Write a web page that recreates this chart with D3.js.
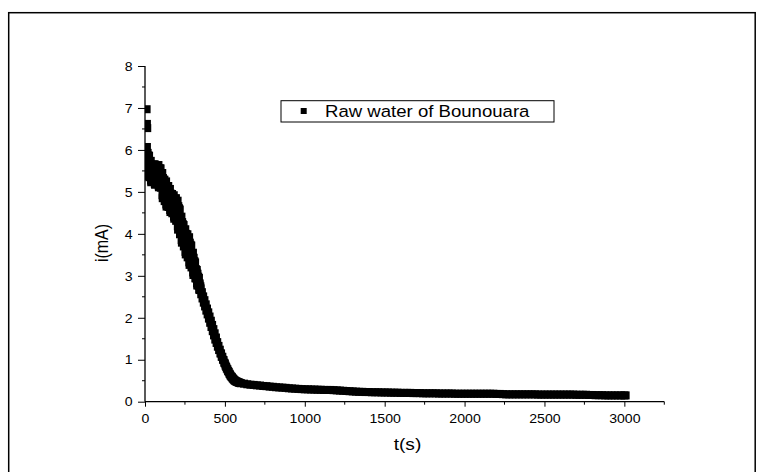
<!DOCTYPE html>
<html>
<head>
<meta charset="utf-8">
<script src="https://cdn.jsdelivr.net/npm/d3@7/dist/d3.min.js"></script>
<style>
  html, body { margin: 0; padding: 0; background: #fff; }
  svg { display: block; }
  text { font-family: "Liberation Sans", Arial, sans-serif; fill: #000; }
</style>
</head>
<body>
<div id="chart"></div>
<script>
// ---------------- data ----------------
const seriesName = "Raw water of Bounouara";
const xTitle = "t(s)";
const yTitle = "i(mA)";
const xMajorTicks = [0, 500, 1000, 1500, 2000, 2500, 3000];
const yMajorTicks = [0, 1, 2, 3, 4, 5, 6, 7, 8];

// isolated early spikes
const spikeTime = [10, 12, 14];
const spikeCurrent = [6.97, 6.62, 6.52];

// noisy start (s, mA) - first set of readings
const timeStart = [3,6,9,12,15,18,21,24,27,30,33,36,39,42,45,48,51,54,57,60,63,66,69,72,75,78,81,84,87,90,
  93,96,99,102,105,108,111,114,117,120,123,126,129,132,135,138,141,144,147,150,153,156,159,162,165,168,171,174,177,180,
  183,186,189,192,195,198,201,204,207,210,213,216,219,222,225,228,231,234,237,240,243,246,249,252,255,258,261,264,267,270,
  273,276,279,282,285,288,291,294,297,300,303,306,309,312,315,318,321,324,327,330,333,336,339,342,345];
const currentStart = [5.51,6.01,5.69,6.07,5.38,5.73,5.87,5.49,5.35,5.70,5.46,5.74,5.23,5.50,5.63,5.34,5.24,5.56,5.37,5.66,
  5.17,5.46,5.60,5.30,5.20,5.54,5.34,5.64,5.11,5.42,5.56,5.22,5.10,5.42,5.16,5.45,4.85,5.15,5.29,4.91,
  4.78,5.17,4.92,5.25,4.65,4.98,5.13,4.77,4.64,5.01,4.77,5.07,4.52,4.81,4.94,4.62,4.49,4.84,4.61,4.92,
  4.36,4.68,4.84,4.46,4.31,4.71,4.44,4.79,4.10,4.47,4.61,4.17,3.99,4.37,4.10,4.41,3.79,4.10,4.23,3.85,
  3.70,4.06,3.80,4.11,3.51,3.83,3.98,3.59,3.44,3.85,3.57,3.92,3.26,3.61,3.74,3.34,3.20,3.54,3.29,3.55,
  3.02,3.26,3.35,3.05,2.94,3.16,2.98,3.14,2.77,2.93,2.98,2.76,2.67,2.82,2.67];

// noisy start (s, mA) - interleaved readings
const timeStart2 = [4.5,7.5,10.5,13.5,16.5,19.5,22.5,25.5,28.5,31.5,34.5,37.5,40.5,43.5,46.5,49.5,52.5,55.5,58.5,61.5,
  64.5,67.5,70.5,73.5,76.5,79.5,82.5,85.5,88.5,91.5,94.5,97.5,100.5,103.5,106.5,109.5,112.5,115.5,118.5,121.5,
  124.5,127.5,130.5,133.5,136.5,139.5,142.5,145.5,148.5,151.5,154.5,157.5,160.5,163.5,166.5,169.5,172.5,175.5,178.5,181.5,
  184.5,187.5,190.5,193.5,196.5,199.5,202.5,205.5,208.5,211.5,214.5,217.5,220.5,223.5,226.5,229.5,232.5,235.5,238.5,241.5,
  244.5,247.5,250.5,253.5,256.5,259.5,262.5,265.5,268.5,271.5,274.5,277.5,280.5,283.5,286.5,289.5,292.5,295.5,298.5,301.5,
  304.5,307.5,310.5,313.5,316.5,319.5,322.5,325.5,328.5,331.5,334.5,337.5,340.5,343.5,346.5];
const currentStart2 = [5.86,5.57,5.90,5.42,5.93,5.58,5.61,5.86,5.60,5.38,5.62,5.27,5.64,5.38,5.42,5.65,5.45,5.28,5.51,5.19,
  5.58,5.34,5.38,5.62,5.42,5.24,5.49,5.15,5.56,5.29,5.32,5.56,5.33,5.11,5.32,4.92,5.33,5.01,5.03,5.29,
  5.04,4.82,5.09,4.70,5.14,4.84,4.87,5.14,4.89,4.68,4.93,4.57,4.96,4.68,4.71,4.95,4.73,4.53,4.77,4.41,
  4.83,4.53,4.58,4.85,4.59,4.34,4.62,4.18,4.66,4.30,4.31,4.58,4.27,4.02,4.27,3.85,4.28,3.95,3.97,4.21,
  3.95,3.72,3.97,3.57,4.00,3.68,3.71,3.99,3.72,3.47,3.76,3.32,3.79,3.45,3.47,3.72,3.45,3.22,3.44,3.08,
  3.43,3.15,3.16,3.32,3.11,2.94,3.08,2.82,3.05,2.85,2.84,2.95,2.79,2.66,2.75];

// steep decay (s, mA)
const timeDecay = [348,352,356,360,364,368,372,376,380,384,388,392,396,400,404,408,412,416,420,424,428,432,436,440,444,
  448,452,456,460,464,468,472,476,480,484,488,492,496,500,504,508,512,516,520,524,528,532,536,540,544,548,552,556,560,
  564,568,572,576,580,584,588,592,596];
const currentDecay = [2.70,2.56,2.61,2.46,2.51,2.36,2.42,2.27,2.32,2.17,2.22,2.08,2.13,1.98,2.03,1.88,1.93,1.78,1.83,1.68,
  1.73,1.58,1.63,1.48,1.53,1.40,1.42,1.31,1.33,1.23,1.24,1.15,1.15,1.07,1.07,1.00,0.99,0.93,0.91,0.86,0.83,0.79,0.77,0.73,
  0.71,0.67,0.65,0.62,0.60,0.585,0.56,0.545,0.525,0.51,0.50,0.49,0.48,0.475,0.47,0.46,0.455,0.45,0.445];

// slow tail (s, mA)
const timeTail = [600,620,640,660,680,700,720,740,760,780,800,820,840,860,880,900,920,940,960,980,
  1000,1020,1040,1060,1080,1100,1120,1140,1160,1180,1200,1220,1240,1260,1280,1300,1320,1340,1360,1380,
  1400,1420,1440,1460,1480,1500,1520,1540,1560,1580,1600,1620,1640,1660,1680,1700,1720,1740,1760,1780,
  1800,1820,1840,1860,1880,1900,1920,1940,1960,1980,2000,2020,2040,2060,2080,2100,2120,2140,2160,2180,
  2200,2220,2240,2260,2280,2300,2320,2340,2360,2380,2400,2420,2440,2460,2480,2500,2520,2540,2560,2580,
  2600,2620,2640,2660,2680,2700,2720,2740,2760,2780,2800,2820,2840,2860,2880,2900,2920,2940,2960,2980,
  3000,3008];
const currentTail = [0.44,0.43,0.415,0.405,0.40,0.39,0.385,0.375,0.37,0.36,0.355,0.345,0.34,0.335,0.33,0.32,0.315,0.31,0.305,0.30,
  0.295,0.295,0.29,0.29,0.285,0.285,0.28,0.28,0.28,0.275,0.27,0.265,0.26,0.255,0.25,0.245,0.24,0.235,0.235,0.23,
  0.23,0.225,0.225,0.225,0.22,0.22,0.22,0.215,0.215,0.215,0.21,0.21,0.21,0.21,0.205,0.205,0.205,0.2,0.2,0.2,
  0.2,0.2,0.195,0.195,0.195,0.195,0.195,0.19,0.19,0.19,0.19,0.19,0.19,0.19,0.19,0.19,0.19,0.19,0.19,0.19,
  0.185,0.185,0.18,0.175,0.175,0.175,0.175,0.175,0.175,0.175,0.175,0.175,0.175,0.17,0.17,0.17,0.17,0.17,0.17,0.17,
  0.17,0.17,0.17,0.17,0.17,0.165,0.165,0.165,0.165,0.16,0.16,0.155,0.155,0.155,0.15,0.15,0.15,0.15,0.15,0.15,
  0.15,0.15];

// ---------------- drawing ----------------
const W = 761, H = 472;
const STRETCH = 1.13;
const svg = d3.select("#chart").append("svg").attr("width", W).attr("height", H);
svg.append("rect").attr("width", W).attr("height", H).attr("fill", "#fff");

// outer frame
svg.append("rect").attr("x", 8.7).attr("y", 12.7).attr("width", 746.5).attr("height", 480)
  .attr("fill", "none").attr("stroke", "#000").attr("stroke-width", 1.5);

const x = d3.scaleLinear().domain([0, 3250]).range([145, 664.3]);
const y = d3.scaleLinear().domain([0, 8]).range([401.7, 66]);

const points = [];
spikeTime.forEach((t, i) => points.push([t, spikeCurrent[i]]));
timeStart.forEach((t, i) => points.push([t, currentStart[i]]));
timeStart2.forEach((t, i) => points.push([t, currentStart2[i]]));
timeDecay.forEach((t, i) => points.push([t, currentDecay[i]]));
timeTail.forEach((t, i) => points.push([t, currentTail[i]]));

svg.append("clipPath").attr("id", "plotclip").append("rect")
  .attr("x", x(0)).attr("y", 0).attr("width", x(3250) - x(0)).attr("height", y(0) + 10);

const S = 8;
svg.append("g").attr("clip-path", "url(#plotclip)")
  .selectAll("rect").data(points).join("rect")
  .attr("x", d => x(d[0]) - S / 2).attr("y", d => y(d[1]) - S / 2)
  .attr("width", S).attr("height", S).attr("fill", "#000");

// x axis
const xMinor = d3.range(0, 3251, 250).filter(v => v % 500 !== 0);
const xAxisG = svg.append("g").attr("transform", `translate(0,${y(0)})`);
xAxisG.call(d3.axisBottom(x).tickValues(xMajorTicks).tickSize(5).tickSizeOuter(0).tickFormat(d3.format("d")));
xAxisG.selectAll(".tick text").attr("y", 21.6).attr("dy", 0)
  .attr("transform", `scale(${STRETCH},1)`).style("font-size", "12.5px").style("font-family", '"Liberation Sans", Arial, sans-serif');
xAxisG.append("g").selectAll("line").data(xMinor).join("line")
  .attr("x1", d => x(d)).attr("x2", d => x(d)).attr("y1", 0).attr("y2", 3).attr("stroke", "#000");
xAxisG.select(".domain").attr("stroke-width", 1.2).attr("d", `M${x(0)},0H${x(3250)}`);
xAxisG.selectAll(".tick line").attr("stroke-width", 1);

// y axis
const yMinor = d3.range(0.5, 8, 1);
const yAxisG = svg.append("g").attr("transform", `translate(${x(0)},0)`);
yAxisG.call(d3.axisLeft(y).tickValues(yMajorTicks).tickSize(7).tickSizeOuter(0).tickFormat(d3.format("d")));
yAxisG.selectAll(".tick text").attr("x", -12.3 / STRETCH).attr("dy", "0.34em")
  .attr("transform", `scale(${STRETCH},1)`).style("font-size", "12.5px").style("font-family", '"Liberation Sans", Arial, sans-serif');
yAxisG.append("g").selectAll("line").data(yMinor).join("line")
  .attr("y1", d => y(d)).attr("y2", d => y(d)).attr("x1", 0).attr("x2", -3).attr("stroke", "#000");
yAxisG.select(".domain").attr("stroke-width", 1.3).attr("d", `M0,${y(0)}V${y(8)}`);

// axis titles
svg.append("g").attr("transform", `translate(407.5,449.6) scale(${STRETCH},1)`)
  .append("text").attr("text-anchor", "middle").style("font-size", "17px").text(xTitle);
svg.append("g").attr("transform", `translate(108,243) scale(${STRETCH},1) rotate(-90)`)
  .append("text").attr("text-anchor", "middle").style("font-size", "16px").text(yTitle);

// legend
const lg = svg.append("g");
lg.append("rect").attr("x", 281).attr("y", 100.7).attr("width", 273).attr("height", 21.3)
  .attr("fill", "#fff").attr("stroke", "#000").attr("stroke-width", 1);
lg.append("rect").attr("x", 300.7).attr("y", 108).attr("width", 6).attr("height", 6).attr("fill", "#000");
lg.append("g").attr("transform", `translate(325,116.7) scale(1.14,1)`)
  .append("text").style("font-size", "16.3px").text(seriesName);
</script>
</body>
</html>
